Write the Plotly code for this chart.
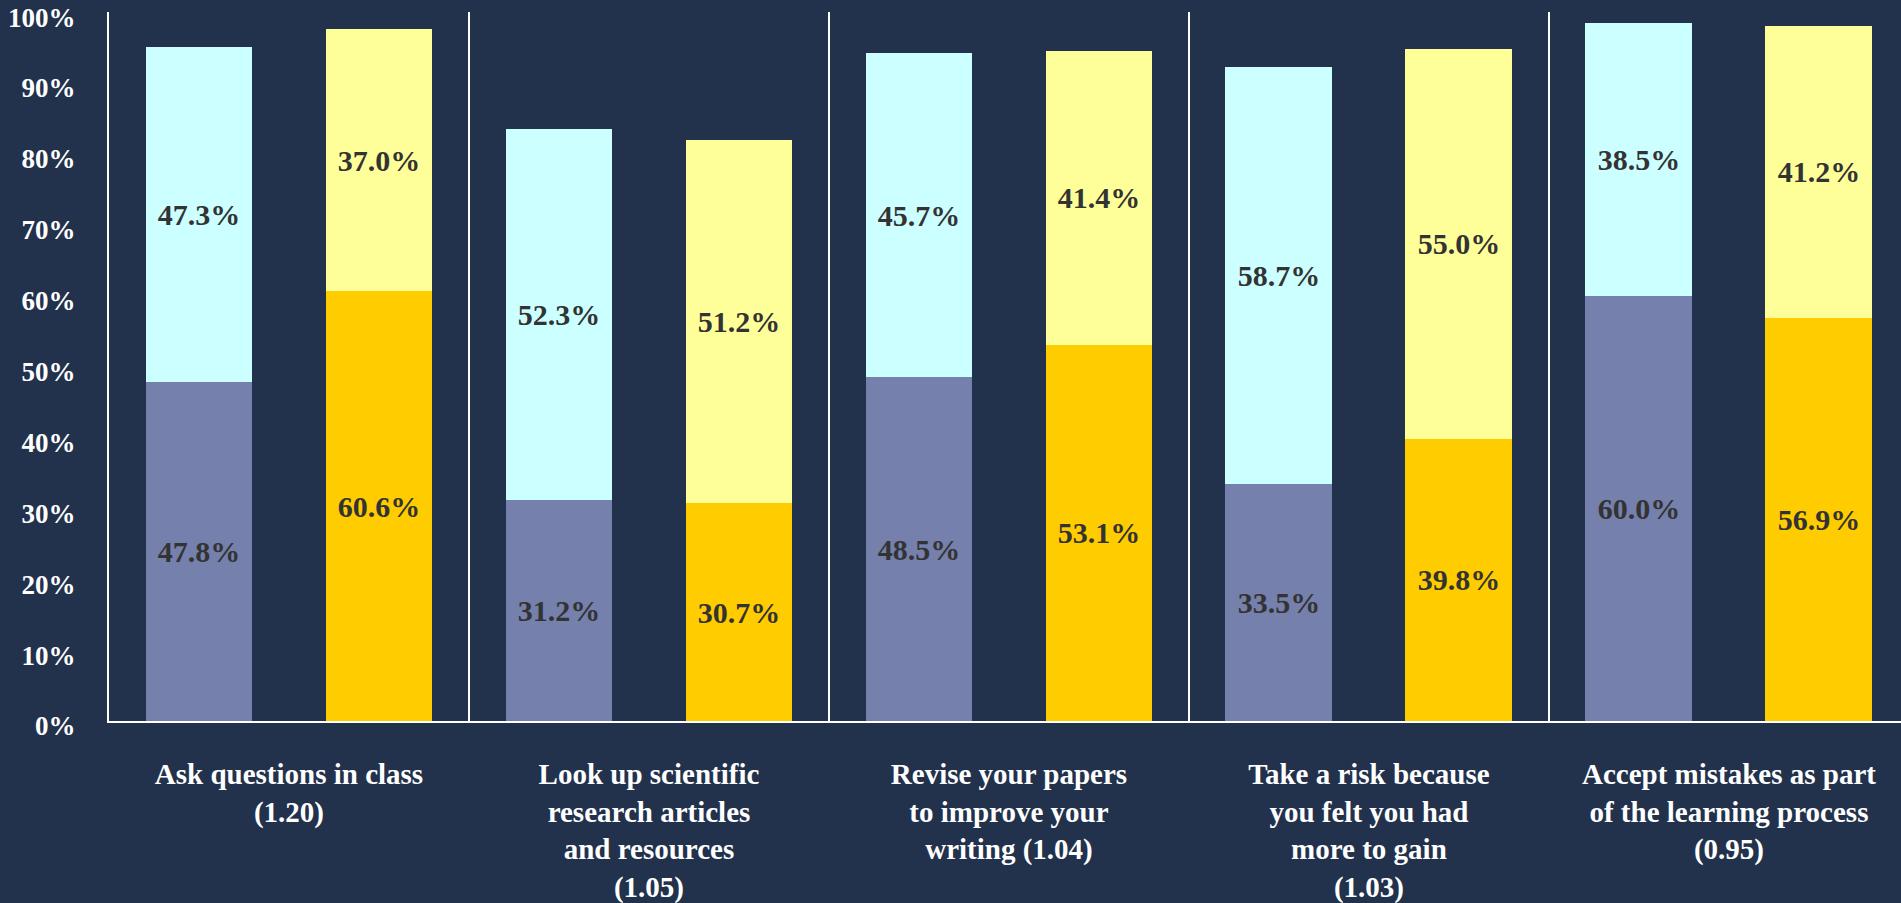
import plotly.graph_objects as go

categories = [
    "Ask questions in class<br>(1.20)",
    "Look up scientific<br>research articles<br>and resources<br>(1.05)",
    "Revise your papers<br>to improve your<br>writing (1.04)",
    "Take a risk because<br>you felt you had<br>more to gain<br>(1.03)",
    "Accept mistakes as part<br>of the learning process<br>(0.95)",
]
group_a_lower = [47.8, 31.2, 48.5, 33.5, 60.0]
group_a_upper = [47.3, 52.3, 45.7, 58.7, 38.5]
group_b_lower = [60.6, 30.7, 53.1, 39.8, 56.9]
group_b_upper = [37.0, 51.2, 41.4, 55.0, 41.2]
y_ticks = [0, 10, 20, 30, 40, 50, 60, 70, 80, 90, 100]

BG = "#22324C"
TXT = "#333333"
idx = list(range(len(categories)))
xa = [i - 0.25 for i in idx]
xb = [i + 0.25 for i in idx]
W = 0.297

label_font = dict(family="Liberation Serif", size=30, color=TXT, weight="bold")


def seg(x, y, color, name):
    return go.Bar(
        x=x, y=y, name=name, width=W, marker=dict(color=color, line=dict(width=0)),
        texttemplate="%{y:.1f}%", textposition="inside", insidetextanchor="middle",
        textangle=0, textfont=label_font, constraintext="none", showlegend=False,
        hoverinfo="skip", cliponaxis=False,
    )


fig = go.Figure()
fig.add_trace(seg(xa, group_a_lower, "#7580AC", "Group A – lower"))
fig.add_trace(seg(xa, group_a_upper, "#CCFFFF", "Group A – upper"))
fig.add_trace(seg(xb, group_b_lower, "#FFCC00", "Group B – lower"))
fig.add_trace(seg(xb, group_b_upper, "#FFFF99", "Group B – upper"))

fig.update_layout(
    barmode="stack",
    width=1901, height=903,
    paper_bgcolor=BG, plot_bgcolor=BG,
    margin=dict(l=109, r=0, t=12, b=182, autoexpand=False),
    showlegend=False,
)
fig.update_xaxes(
    automargin=False,
    range=[-0.5, 4.478],
    tickmode="array", tickvals=idx, ticktext=categories,
    tickfont=dict(family="Liberation Serif", size=29, color="white", weight="bold"),
    showgrid=False, zeroline=False,
    showline=True, linecolor="white", linewidth=2,
    ticks="", ticklabelstandoff=26, ticklabeloverflow="allow",
    minor=dict(tickmode="array", tickvals=[i + 0.5 for i in idx],
               showgrid=True, gridcolor="white", gridwidth=1.5, ticks=""),
)
fig.update_yaxes(
    automargin=False,
    range=[0, 100.01],
    tickmode="array", tickvals=y_ticks, ticktext=[f"{v}%" for v in y_ticks],
    tickfont=dict(family="Liberation Serif", size=27, color="white", weight="bold"),
    showgrid=False, zeroline=False,
    showline=True, linecolor="white", linewidth=2,
    ticks="", ticklabelstandoff=26, ticklabelshift=5, ticklabeloverflow="allow",
)

fig.write_html(
    "out.html",
    config={"displayModeBar": False},
    post_script=(
        "document.body.style.margin='0';"
        "document.body.style.overflow='hidden';"
        f"document.body.style.backgroundColor='{BG}';"
    ),
)
